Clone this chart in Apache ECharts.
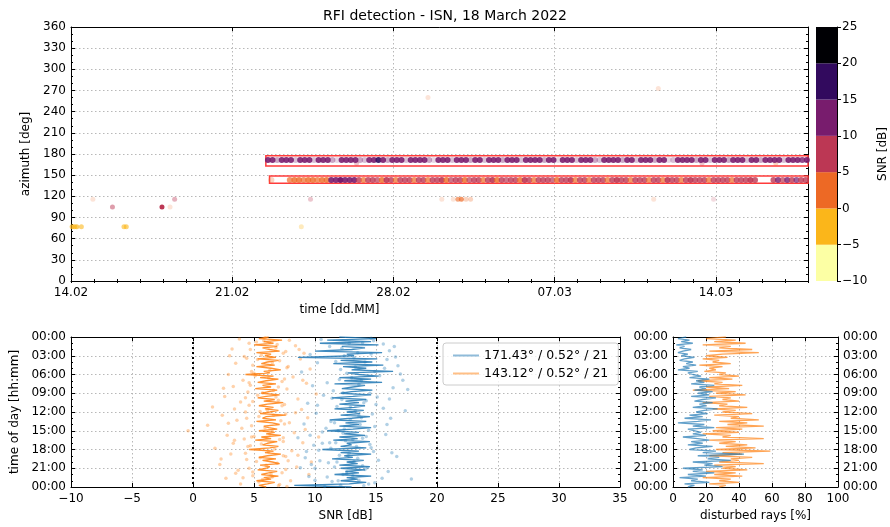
<!DOCTYPE html>
<html>
<head>
<meta charset="utf-8">
<title>RFI detection - ISN</title>
<script src="https://cdn.jsdelivr.net/npm/echarts@6/dist/echarts.min.js"></script>
<style>
  html, body { margin: 0; padding: 0; background: #fff; }
  #chart { width: 890px; height: 527px; }
</style>
</head>
<body>
<div id="chart"></div>
<script>
// ---------- data ----------
// top panel: x = days since 14.02.2022, y = azimuth [deg], snr [dB], n = number of hits (drives opacity)
const outliers = [
  [0.05, 77, -2, 6], [0.15, 77, -2, 6], [0.25, 77, -2, 6], [0.45, 77, -3, 5],
  [0.95, 116, 1, 1], [1.8, 105, 7, 4], [2.3, 77, -2, 5], [2.4, 77, -2, 5],
  [3.95, 105, 8, 9], [4.3, 105, 1, 1], [4.5, 116, 7, 3], [10.0, 77, -3, 2],
  [10.4, 116, 7, 2], [12.4, 167, 8, 2], [15.5, 260, 1, 1], [16.1, 116, 1, 1],
  [16.6, 116, 1, 1], [16.8, 116, 3, 5], [16.95, 116, 3, 6], [17.15, 116, 4, 2],
  [17.35, 116, 4, 2], [25.3, 116, 1, 1], [25.5, 273, 1, 1], [27.4, 167, 8, 2],
  [27.9, 116, 7, 1], [30.6, 167, 2, 2]
]

const band1Az = 171.43
const band1Start = 8.55
const band1Snr = [
  13, 13, 14, 13, 12, 13, 14, 13, 12, 13, 14, 13, 13, 12, 13, 12, 13, 14, 13, 13,
  13, 12, 13, 14, 15, 13, 13, 12, 13, 13, 14, 13, 12, 13, 13, 13, 14, 13, 12, 13,
  13, 13, 12, 14, 13, 12, 13, 13, 14, 13, 13, 12, 13, 13, 14, 13, 13, 14, 12, 13,
  13, 12, 13, 13, 14, 13, 13, 12, 13, 14, 13, 13, 12, 13, 13, 14, 13, 12, 13, 13,
  12, 13, 14, 13, 13, 13, 12, 13, 14, 13, 13, 13, 12, 13, 14, 13, 12, 13, 13, 13,
  14, 13, 12, 13, 13, 13, 14, 13, 12, 13, 13, 12, 13, 14, 13, 13, 13, 12
]
const band1N = [
  8, 8, 3, 8, 8, 8, 2, 8, 8, 8, 2, 8, 8, 8, 3, 1, 8, 8, 8, 8,
  3, 2, 8, 8, 8, 8, 3, 8, 8, 8, 2, 8, 8, 8, 8, 3, 1, 8, 8, 8,
  2, 8, 8, 8, 3, 8, 8, 2, 8, 8, 8, 3, 8, 8, 8, 2, 8, 8, 8, 8,
  3, 8, 8, 1, 8, 8, 8, 2, 8, 8, 8, 3, 2, 8, 8, 8, 8, 3, 8, 8,
  2, 8, 8, 8, 3, 8, 8, 1, 2, 8, 8, 8, 8, 3, 8, 8, 2, 8, 8, 8,
  3, 8, 8, 8, 2, 8, 8, 3, 8, 8, 8, 8, 2, 8, 8, 8, 7, 8
]

const band2Az = 143.12
const band2Start = 8.7
const band2Snr = [
  1, null, null, null,
  3, 4, 3, 4, 3, 4, 4, 3, 4,
  12, 13, 13, 12, 13, 12,
  7, 4, 8, 5, 6, 3, 7, 9, 4, 6, 5, 8, 4, 7, 6, 3, 8, 5, 7, 4,
  6, 9, 5, 4, 7, 6, 8, 3, 5, 7, 4, 6, 8, 5, 7, 4, 9, 6, 3, 7,
  5, 8, 6, 4, 7, 5, 8, 4, 6, 7, 3, 5, 8, 6, 4, 7, 9, 5, 6, 4,
  7, 5, 8, 3, 6, 7, 4, 8, 5, 6, 4, 7, 9, 5, 6, 8, 4, 7, 5, 6,
  8, 4, 6, 7, 5, 9, 6,
  null, null, null,
  9, 11, 8, 12, 7, 10, 9, 8
]
const band2N = [
  2, 0, 0, 0,
  6, 7, 7, 6, 7, 7, 6, 7, 7,
  8, 8, 9, 8, 8, 8,
  7, 6, 7, 7, 6, 7, 8, 7, 6, 7, 7, 7, 6, 7, 7, 6, 7, 7, 8, 7,
  6, 7, 7, 7, 6, 7, 7, 6, 7, 8, 7, 7, 6, 7, 7, 7, 8, 7, 6, 7,
  7, 7, 6, 7, 7, 7, 8, 6, 7, 7, 6, 7, 7, 7, 6, 7, 8, 7, 7, 6,
  7, 7, 7, 6, 7, 7, 6, 8, 7, 7, 6, 7, 8, 7, 7, 7, 6, 7, 7, 7,
  7, 6, 7, 7, 7, 8, 7,
  0, 0, 0,
  7, 7, 6, 7, 7, 6, 7, 7
]
const bandStep = 0.2

// red detection boxes: [from day, to day, az low, az high]
const boxes = [[8.46, 32, 163, 177.5], [8.62, 32, 138.5, 148.8]]

const snrEdges = [-10, -5, 0, 5, 10, 15, 20, 25]

// bottom panels: time of day [h], sampled every 15 min
const blueName = '171.43° / 0.52° / 21'
const orangeName = '143.12° / 0.52° / 21'
const blueMedian = [
  12.0, 15.0, 11.0, 14.6, 10.4, 15.2, 12.2, 14.1, 13.0, 10.0, 15.5, 12.6,
  13.2, 8.6, 15.1, 12.1, 14.7, 11.5, 15.6, 12.3, 14.2, 13.0, 16.4, 12.7,
  13.6, 15.2, 12.0, 14.6, 12.4, 15.5, 11.6, 14.1, 13.1, 12.2, 14.7, 13.0,
  12.1, 14.6, 13.1, 11.4, 14.2, 12.5, 13.6, 12.0, 14.1, 13.2, 11.6, 14.0,
  12.6, 13.7, 12.1, 14.5, 13.0, 11.2, 14.2, 12.5, 13.6, 12.0, 14.6, 13.1,
  11.0, 13.6, 12.4, 14.1, 12.0, 13.5, 11.5, 14.5, 12.6, 13.0, 12.1, 14.2,
  10.6, 13.6, 12.1, 14.6, 12.4, 13.1, 11.4, 14.0, 12.6, 13.5, 12.0, 14.5,
  12.1, 14.1, 12.5, 13.6, 11.6, 14.6, 12.6, 13.5, 12.1, 14.2, 12.8, 8.3, 13.0
]
const orangeMedian = [
  6.2, 5.4, 7.3, 5.8, 6.6, 5.0, 6.9, 5.7, 6.3, 7.1, 5.2, 6.4,
  5.9, 6.8, 5.3, 7.0, 6.1, 5.6, 6.7, 5.2, 6.4, 7.2, 5.8, 6.3,
  4.3, 6.6, 5.5, 7.0, 6.0, 5.3, 6.8, 5.7, 6.4, 5.1, 6.9, 6.2,
  5.6, 7.1, 6.0, 5.3, 6.7, 5.8, 7.4, 6.1, 5.4, 6.6, 5.9, 7.0,
  6.3, 5.5, 7.6, 6.0, 5.7, 6.8, 5.2, 6.5, 7.1, 5.8, 6.2, 6.9,
  5.4, 6.7, 6.0, 7.2, 5.6, 6.4, 5.1, 6.9, 6.1, 5.7, 7.0, 6.3,
  4.6, 6.6, 5.9, 7.2, 6.1, 5.4, 6.8, 5.7, 6.5, 7.1, 5.5, 6.3,
  6.0, 5.3, 6.9, 6.2, 5.6, 7.0, 5.8, 6.4, 5.2, 6.7, 6.1, 5.4, 6.0
]
const blueRays = [
  8, 3, 10, 5, 12, 2, 7, 4, 11, 6, 3, 9,
  5, 13, 7, 4, 12, 8, 14, 6, 10, 3, 15, 9,
  12, 17, 10, 22, 14, 19, 11, 25, 16, 20, 13, 24,
  15, 22, 11, 26, 18, 13, 24, 16, 20, 12, 27, 19,
  14, 21, 10, 18, 7, 23, 15, 3, 19, 12, 25, 9,
  8, 17, 12, 20, 6, 15, 22, 11, 18, 9, 24, 14,
  10, 26, 18, 43, 15, 28, 21, 35, 12, 24, 19, 30,
  6, 18, 12, 25, 9, 20, 4, 15, 11, 22, 7, 13, 9
]
const orangeRays = [
  32, 20, 38, 25, 44, 18, 35, 28, 48, 22, 52, 30,
  20, 33, 18, 28, 24, 35, 16, 30, 22, 26, 19, 32,
  28, 40, 22, 36, 15, 30, 25, 42, 20, 34, 12, 38,
  26, 44, 22, 35, 30, 40, 18, 33, 28, 45, 24, 38,
  30, 48, 25, 40, 35, 52, 28, 45, 33, 55, 26, 42,
  24, 40, 18, 35, 30, 55, 22, 38, 28, 45, 32, 50,
  26, 59, 30, 42, 22, 48, 35, 40, 28, 55, 25, 38,
  30, 45, 20, 38, 25, 42, 18, 35, 28, 40, 22, 32, 28
]
// single detections [snr, hour]
const blueDots = [
  [10.5, 0.4], [14.8, 0.6], [15.6, 1.1], [11.2, 1.5], [16.1, 2.2], [9.6, 2.8], [13.2, 3.3], [15.9, 3.6],
  [10.2, 4.1], [16.8, 4.6], [12.1, 5.2], [8.9, 5.6], [15.3, 6.2], [17.2, 6.9], [11.0, 7.3], [9.8, 7.8],
  [16.4, 8.1], [17.6, 8.4], [12.3, 8.9], [10.7, 9.3], [15.1, 9.6], [14.2, 10.2], [9.4, 10.6], [11.8, 11.1],
  [15.6, 11.4], [10.1, 12.2], [13.6, 12.6], [16.2, 13.0], [11.3, 13.5], [9.1, 13.9], [14.9, 14.3], [12.4, 14.7],
  [10.6, 15.2], [15.8, 15.6], [8.6, 16.1], [13.1, 16.4], [11.7, 16.9], [9.9, 17.3], [14.6, 17.7], [10.3, 18.1],
  [16.3, 18.5], [12.0, 18.9], [9.2, 19.3], [15.2, 19.7], [11.1, 20.1], [13.9, 20.6], [10.0, 21.0], [16.0, 21.5],
  [12.6, 21.9], [9.5, 22.3], [15.5, 22.6], [17.9, 22.7], [11.4, 23.1], [14.4, 23.5], [10.8, 23.9],
  [12.8, 1.0], [13.5, 2.5], [14.1, 4.0], [12.6, 5.8], [13.8, 7.0], [14.5, 9.0], [12.2, 10.0], [13.3, 11.8],
  [14.7, 12.3], [12.9, 13.2], [13.7, 14.0], [11.9, 15.0], [14.2, 15.9], [12.5, 16.6], [13.4, 17.5], [14.8, 18.3],
  [12.7, 19.0], [13.2, 19.9], [11.6, 20.8], [14.1, 21.2], [12.3, 22.0], [13.6, 22.9], [14.9, 23.3], [12.1, 23.7],
  [13.0, 6.5], [12.4, 3.0], [11.5, 8.6], [15.0, 10.8], [10.9, 14.6], [11.3, 17.8], [10.4, 19.8], [9.7, 20.4],
  [11.0, 22.4], [15.7, 5.0], [16.6, 3.2], [14.6, 0.2],
  [13.9, 0.9], [12.2, 1.8], [14.6, 2.7], [11.7, 3.9], [13.3, 4.8], [14.9, 5.5], [12.0, 6.8], [13.6, 7.6],
  [11.4, 9.8], [14.0, 10.5], [12.9, 11.2], [13.8, 12.9], [11.6, 13.7], [14.4, 14.9], [12.3, 15.4], [13.9, 16.2],
  [11.2, 16.9], [14.5, 17.2], [12.8, 18.6], [13.5, 19.4], [11.8, 20.0], [14.3, 20.9], [12.6, 21.6], [13.1, 22.2],
  [11.9, 23.0], [14.0, 23.8], [10.2, 10.9], [9.6, 15.7], [10.6, 17.0], [9.3, 18.3], [10.0, 22.9], [8.8, 20.9],
  [16.5, 1.5], [17.0, 5.9], [16.1, 9.9], [15.9, 14.0], [16.7, 19.1], [17.4, 11.8]
]
const orangeDots = [
  [3.8, 0.3], [7.9, 0.5], [4.6, 1.0], [8.4, 1.4], [3.2, 1.9], [7.6, 2.3], [9.1, 2.6], [4.2, 3.1],
  [8.8, 3.5], [3.5, 4.2], [7.8, 4.7], [9.6, 5.1], [4.8, 5.5], [2.9, 6.0], [8.2, 6.4], [4.1, 6.9],
  [9.3, 7.4], [3.3, 7.9], [7.7, 8.3], [4.5, 8.8], [10.1, 9.1], [2.6, 9.5], [8.6, 9.9], [3.9, 10.4],
  [7.5, 10.8], [1.6, 11.2], [8.9, 11.6], [4.3, 12.0], [2.4, 12.5], [9.4, 12.9], [3.6, 13.3], [7.9, 13.7],
  [1.2, 14.1], [-0.4, 15.0], [4.0, 14.6], [8.3, 15.3], [2.8, 15.7], [7.4, 16.1], [3.4, 16.5], [9.0, 16.9],
  [4.7, 17.4], [1.8, 17.8], [8.1, 18.2], [3.1, 18.7], [7.6, 19.1], [4.4, 19.6], [9.7, 20.0], [2.2, 20.4],
  [8.5, 20.8], [3.7, 21.3], [7.3, 21.7], [4.9, 22.2], [2.7, 22.6], [8.0, 23.0], [3.9, 23.5], [7.7, 23.9],
  [5.2, 0.8], [6.8, 1.7], [5.6, 2.9], [7.1, 3.8], [4.9, 4.5], [6.3, 5.3], [5.1, 6.2], [7.3, 7.1],
  [4.7, 7.7], [6.6, 8.5], [5.3, 9.3], [7.0, 10.1], [4.6, 10.9], [6.1, 11.7], [5.4, 12.7], [7.2, 13.4],
  [4.8, 14.2], [6.5, 15.1], [5.0, 15.9], [7.4, 16.7], [4.5, 17.5], [6.2, 18.4], [5.5, 19.3], [6.9, 20.2],
  [4.6, 21.0], [6.4, 21.9], [5.7, 22.8], [7.1, 23.6], [5.9, 0.1], [4.4, 3.4], [7.5, 6.7], [4.3, 9.7],
  [7.6, 12.3], [4.2, 16.3], [7.8, 19.8], [4.1, 22.5],
  [5.8, 0.6], [6.9, 1.2], [4.7, 2.0], [7.4, 2.6], [5.3, 3.6], [6.5, 4.1], [7.7, 4.9], [5.0, 5.8],
  [6.2, 6.5], [4.6, 7.3], [7.0, 8.0], [5.7, 8.9], [6.8, 9.6], [4.9, 10.3], [7.3, 11.0], [5.5, 11.9],
  [6.6, 12.5], [4.4, 13.0], [7.5, 13.9], [5.9, 14.5], [6.3, 15.5], [4.8, 16.0], [7.1, 16.4], [5.6, 17.1],
  [6.7, 17.9], [4.3, 18.6], [7.4, 19.0], [5.2, 19.9], [6.0, 20.5], [7.6, 21.2], [4.9, 21.6], [6.5, 22.4],
  [5.4, 23.2], [7.0, 23.8], [3.0, 3.0], [2.5, 8.2], [3.4, 11.5], [2.9, 13.8], [3.3, 17.0], [2.3, 19.5],
  [3.5, 21.8], [8.7, 2.0], [9.0, 6.9], [8.4, 12.1], [9.2, 14.8], [8.6, 18.9], [9.5, 22.0], [10.3, 16.0]
]
const snrLimits = [0, 20] // dotted reference lines

// ---------- helpers ----------
const font = 'DejaVu Sans'
const blue = '#1f77b4'
const orange = '#ff7f0e'
const snrColors = ['#fcffa4', '#fbb61a', '#ed6925', '#bc3754', '#781c6d', '#320a5e', '#000004']
const pad = v => (v < 10 ? '0' : '') + v
const minus = v => String(v).replace('-', '\u2212')
const fmtDate = v => {
  const d = new Date(2022, 1, 14 + v)
  return pad(d.getDate()) + '.' + pad(d.getMonth() + 1)
}
const fmtHour = v => pad(v % 24) + ':00'
const stepSeries = (start, snr, n, az) => snr
  .map((s, i) => [start + i * bandStep, az, s, n[i]])
  .filter(d => d[2] !== null)
const tod = blueMedian.map((_, i) => i * 0.25)

const gridLine = { show: true, lineStyle: { color: '#b0b0b0', type: [1.5, 2.5], width: 0.9 } }
const axLine = { show: true, onZero: false, lineStyle: { color: '#000', width: 1 } }
const lbl = { color: '#000', fontFamily: font, fontSize: 12 }
const tick = len => ({ show: true, inside: true, length: len, lineStyle: { color: '#000' } })
const nameStyle = { color: '#000', fontFamily: font, fontSize: 12 }

// mirror axis (ticks only)
function mirror(grid, pos, min, max, interval, minorSplit) {
  const ax = {
    type: 'value', gridIndex: grid, position: pos, min, max, interval,
    axisLine: axLine, axisTick: tick(4), axisLabel: { show: false }, splitLine: { show: false }
  }
  if (minorSplit) ax.minorTick = { show: true, splitNumber: minorSplit, length: 2, lineStyle: { color: '#000' } }
  return ax
}

const chart = echarts.init(document.getElementById('chart'))

const option = {
  animation: false,
  backgroundColor: '#fff',
  title: {
    text: 'RFI detection - ISN, 18 March 2022',
    left: 440, top: 4, textAlign: 'center',
    textStyle: { fontFamily: font, fontSize: 14, fontWeight: 'normal', color: '#000' }
  },
  grid: [
    { left: 71, top: 27, width: 737, height: 254 },
    { left: 71, top: 337, width: 549, height: 150 },
    { left: 673, top: 337, width: 165, height: 150 },
    { left: 816, top: 27, width: 22, height: 254 }
  ],
  legend: {
    data: [blueName, orangeName],
    orient: 'vertical', left: 443, top: 343,
    icon: 'rect', itemWidth: 26, itemHeight: 2, itemGap: 5,
    itemStyle: { opacity: 0.5 },
    padding: [6, 10, 5, 10],
    backgroundColor: 'rgba(255,255,255,0.8)',
    borderColor: '#cccccc', borderWidth: 1, borderRadius: 3,
    textStyle: { fontFamily: font, fontSize: 12.5, color: '#000' }
  },
  visualMap: [
    {
      type: 'piecewise', show: false, dimension: 2, seriesIndex: [0, 1, 2],
      pieces: snrColors.map((c, i) => ({ gte: snrEdges[i], lt: snrEdges[i + 1], color: c }))
    },
    {
      type: 'continuous', show: false, dimension: 3, seriesIndex: [0, 1, 2],
      min: 0, max: 9, inRange: { opacity: [0.08, 1] }
    }
  ],
  xAxis: [
    // 0: top panel, labelled bottom axis (weeks)
    {
      type: 'value', gridIndex: 0, position: 'bottom', min: 0, max: 32, interval: 7,
      axisLine: axLine, axisTick: tick(4),
      axisLabel: Object.assign({ formatter: fmtDate, showMaxLabel: false, margin: 6 }, lbl),
      splitLine: gridLine,
      name: 'time [dd.MM]', nameLocation: 'middle', nameGap: 23,
      nameTextStyle: Object.assign({ padding: [0, 200, 0, 0] }, nameStyle)
    },
    // 1: daily minor ticks bottom
    {
      type: 'value', gridIndex: 0, position: 'bottom', min: 0, max: 32, interval: 1,
      axisLine: { show: false }, axisTick: tick(2), axisLabel: { show: false }, splitLine: { show: false }
    },
    // 2,3: top mirror
    mirror(0, 'top', 0, 32, 7),
    {
      type: 'value', gridIndex: 0, position: 'top', min: 0, max: 32, interval: 1,
      axisLine: { show: false }, axisTick: tick(2), axisLabel: { show: false }, splitLine: { show: false }
    },
    // 4: bottom-left SNR axis
    {
      type: 'value', gridIndex: 1, position: 'bottom', min: -10, max: 35, interval: 5,
      axisLine: axLine, axisTick: tick(4),
      axisLabel: Object.assign({ formatter: minus, margin: 6 }, lbl),
      splitLine: gridLine,
      name: 'SNR [dB]', nameLocation: 'middle', nameGap: 23, nameTextStyle: nameStyle
    },
    mirror(1, 'top', -10, 35, 5),
    // 6: bottom-right disturbed rays
    {
      type: 'value', gridIndex: 2, position: 'bottom', min: 0, max: 100, interval: 20,
      axisLine: axLine, axisTick: tick(4),
      axisLabel: Object.assign({ margin: 6 }, lbl),
      splitLine: gridLine,
      name: 'disturbed rays [%]', nameLocation: 'middle', nameGap: 23, nameTextStyle: nameStyle
    },
    mirror(2, 'top', 0, 100, 20),
    // 8: colorbar
    { type: 'category', gridIndex: 3, data: ['snr'], show: false }
  ],
  yAxis: [
    // 0: azimuth
    {
      type: 'value', gridIndex: 0, position: 'left', min: 0, max: 360, interval: 30,
      axisLine: axLine, axisTick: tick(4),
      minorTick: { show: true, splitNumber: 3, length: 2, lineStyle: { color: '#000' } },
      axisLabel: Object.assign({ margin: 5 }, lbl),
      splitLine: gridLine,
      name: 'azimuth [deg]', nameLocation: 'middle', nameGap: 36, nameRotate: 90, nameTextStyle: nameStyle
    },
    mirror(0, 'right', 0, 360, 30, 3),
    // 2: bottom-left time of day
    {
      type: 'value', gridIndex: 1, position: 'left', min: 0, max: 24, interval: 3, inverse: true,
      axisLine: axLine, axisTick: tick(4),
      minorTick: { show: true, splitNumber: 3, length: 2, lineStyle: { color: '#000' } },
      axisLabel: Object.assign({ formatter: fmtHour, margin: 5 }, lbl),
      splitLine: gridLine,
      name: 'time of day [hh:mm]', nameLocation: 'middle', nameGap: 50, nameRotate: 90, nameTextStyle: nameStyle
    },
    Object.assign(mirror(1, 'right', 0, 24, 3, 3), { inverse: true }),
    // 4,5: bottom-right time of day, labelled both sides
    {
      type: 'value', gridIndex: 2, position: 'left', min: 0, max: 24, interval: 3, inverse: true,
      axisLine: axLine, axisTick: tick(4),
      minorTick: { show: true, splitNumber: 3, length: 2, lineStyle: { color: '#000' } },
      axisLabel: Object.assign({ formatter: fmtHour, margin: 5 }, lbl),
      splitLine: gridLine
    },
    {
      type: 'value', gridIndex: 2, position: 'right', min: 0, max: 24, interval: 3, inverse: true,
      axisLine: axLine, axisTick: tick(4),
      minorTick: { show: true, splitNumber: 3, length: 2, lineStyle: { color: '#000' } },
      axisLabel: Object.assign({ formatter: fmtHour, margin: 5 }, lbl),
      splitLine: { show: false }
    },
    // 6: colorbar, offset so the stack starts at the lowest edge
    {
      type: 'value', gridIndex: 3, position: 'right', min: 0, max: snrEdges[snrEdges.length - 1] - snrEdges[0], interval: 5,
      axisLine: axLine, axisTick: { show: true, inside: false, length: 4, lineStyle: { color: '#000' } },
      axisLabel: Object.assign({ formatter: v => minus(v + snrEdges[0]), margin: 5 }, lbl),
      splitLine: { show: false },
      name: 'SNR [dB]', nameLocation: 'middle', nameGap: 40, nameRotate: 90, nameTextStyle: nameStyle
    }
  ],
  series: [
    {
      type: 'scatter', xAxisIndex: 0, yAxisIndex: 0, symbolSize: 5,
      data: outliers
    },
    {
      type: 'scatter', xAxisIndex: 0, yAxisIndex: 0, symbolSize: 6,
      data: stepSeries(band1Start, band1Snr, band1N, band1Az),
      markArea: {
        silent: true,
        itemStyle: { color: 'rgba(0,0,0,0)', borderColor: '#ff3b3b', borderWidth: 1.5 },
        data: [[{ coord: [boxes[0][0], boxes[0][2]] }, { coord: [boxes[0][1], boxes[0][3]] }]]
      }
    },
    {
      type: 'scatter', xAxisIndex: 0, yAxisIndex: 0, symbolSize: 6,
      data: stepSeries(band2Start, band2Snr, band2N, band2Az),
      markArea: {
        silent: true,
        itemStyle: { color: 'rgba(0,0,0,0)', borderColor: '#ff3b3b', borderWidth: 1.5 },
        data: [[{ coord: [boxes[1][0], boxes[1][2]] }, { coord: [boxes[1][1], boxes[1][3]] }]]
      }
    },
    {
      type: 'scatter', xAxisIndex: 4, yAxisIndex: 2, symbolSize: 3.5, silent: true,
      itemStyle: { color: orange, opacity: 0.35 }, data: orangeDots
    },
    {
      type: 'scatter', xAxisIndex: 4, yAxisIndex: 2, symbolSize: 3.5, silent: true,
      itemStyle: { color: blue, opacity: 0.35 }, data: blueDots
    },
    {
      type: 'line', name: orangeName, xAxisIndex: 4, yAxisIndex: 2, symbol: 'none',
      color: orange, lineStyle: { width: 1.3, opacity: 0.85 },
      data: orangeMedian.map((v, i) => [v, tod[i]])
    },
    {
      type: 'line', name: blueName, xAxisIndex: 4, yAxisIndex: 2, symbol: 'none',
      color: blue, lineStyle: { width: 1.3, opacity: 0.85 },
      data: blueMedian.map((v, i) => [v, tod[i]]),
      markLine: {
        silent: true, symbol: 'none', label: { show: false },
        lineStyle: { color: '#000', type: [2, 3], width: 2 },
        data: snrLimits.map(v => ({ xAxis: v }))
      }
    },
    {
      type: 'line', name: 'rays ' + orangeName, xAxisIndex: 6, yAxisIndex: 4, symbol: 'none',
      color: orange, lineStyle: { width: 1.3, opacity: 0.7 },
      data: orangeRays.map((v, i) => [v, tod[i]])
    },
    {
      type: 'line', name: 'rays ' + blueName, xAxisIndex: 6, yAxisIndex: 4, symbol: 'none',
      color: blue, lineStyle: { width: 1.3, opacity: 0.7 },
      data: blueRays.map((v, i) => [v, tod[i]])
    }
  ].concat(snrColors.map((c, i) => ({
    type: 'bar', xAxisIndex: 8, yAxisIndex: 6, stack: 'colorbar', silent: true,
    barWidth: '100%', itemStyle: { color: c },
    data: [snrEdges[i + 1] - snrEdges[i]]
  })))
}

chart.setOption(option)
</script>
</body>
</html>
